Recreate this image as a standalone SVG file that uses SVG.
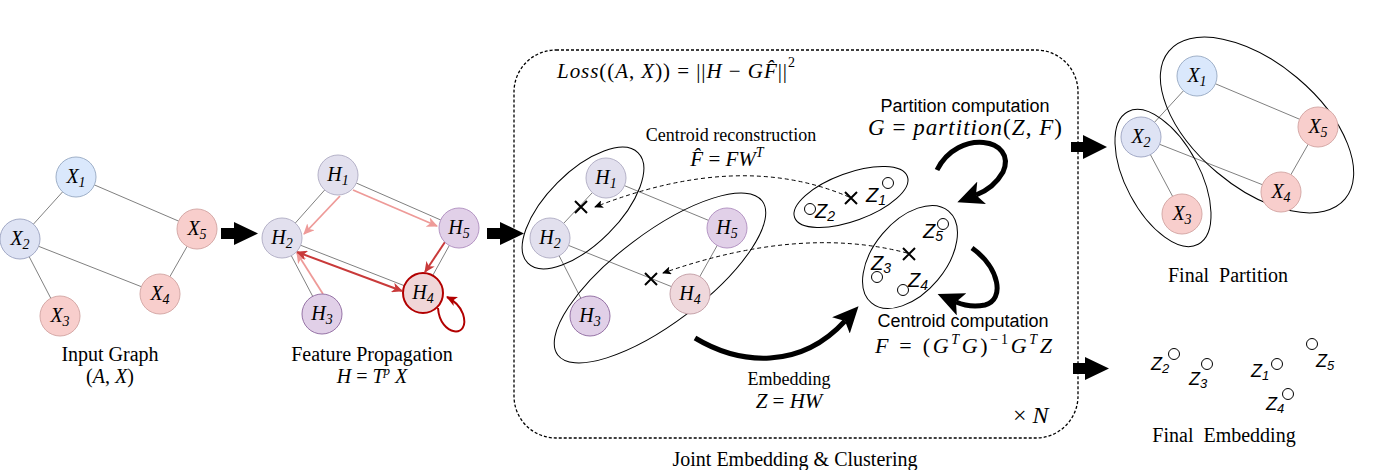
<svg xmlns="http://www.w3.org/2000/svg" width="1387" height="470" viewBox="0 0 1387 470">
<defs>
<style>
.t{font-family:"Liberation Serif","Times New Roman",serif;font-size:20px;fill:#000}
.t18{font-family:"Liberation Serif","Times New Roman",serif;font-size:18px;fill:#000}
.m{font-family:"Liberation Serif","Times New Roman",serif;font-size:21px;fill:#000}
.s{font-family:"Liberation Sans",Arial,sans-serif;font-size:18px;fill:#000}
.i{font-style:italic}
.nl{font-family:"Liberation Serif","Times New Roman",serif;font-style:italic;font-size:20px;fill:#000;text-anchor:middle}
.edge{stroke:#808080;stroke-width:1;fill:none}
.blue1{fill:#dae8fc;stroke:#9fb0c8;stroke-width:1}
.blue2{fill:#dee3f4;stroke:#a3aac6;stroke-width:1}
.red{fill:#f8cecc;stroke:#d6aaa8;stroke-width:1}
.grey{fill:#e2e0ee;stroke:#b5b2c8;stroke-width:1}
.purp{fill:#e1d0e8;stroke:#b596c4;stroke-width:1}
.purp2{fill:#e1d0e8;stroke:#9673a6;stroke-width:1}
.hl{fill:#f0d6d8;stroke:#b20000;stroke-width:2}
.pink{fill:#efd8dc;stroke:#c6a3aa;stroke-width:1}
.grp{fill:none;stroke:#000;stroke-width:1}
.zc{fill:#fff;stroke:#000;stroke-width:1}
.zt{font-family:"Liberation Sans",Arial,sans-serif;font-style:italic;font-size:20px;fill:#000}
.zt2{font-family:"Liberation Sans",Arial,sans-serif;font-style:italic;font-size:18px;fill:#000}
.cross{stroke:#000;stroke-width:2}
.block{fill:#000}
.thick{fill:none;stroke:#000;stroke-width:5}
.dash{fill:none;stroke:#000;stroke-width:1;stroke-dasharray:4 3}
.lt{fill:none;stroke:#ee9a98;stroke-width:1.8}
.dk{fill:none;stroke:#c93a3a;stroke-width:2}
</style>
<marker id="mL" markerUnits="userSpaceOnUse" markerWidth="12" markerHeight="10" refX="10" refY="5" orient="auto-start-reverse" viewBox="0 0 12 10"><path d="M0,0 L11,5 L0,10 L3,5z" fill="#ee9a98"/></marker>
<marker id="mD" markerUnits="userSpaceOnUse" markerWidth="12" markerHeight="10" refX="10" refY="5" orient="auto-start-reverse" viewBox="0 0 12 10"><path d="M0,0 L11,5 L0,10 L3,5z" fill="#c93a3a"/></marker>
<marker id="mR" markerUnits="userSpaceOnUse" markerWidth="12" markerHeight="10" refX="10" refY="5" orient="auto" viewBox="0 0 12 10"><path d="M0,0 L11,5 L0,10 L3,5z" fill="#b20000"/></marker>
<marker id="mS" markerUnits="userSpaceOnUse" markerWidth="9" markerHeight="8" refX="8" refY="4" orient="auto" viewBox="0 0 9 8"><path d="M0,0 L9,4 L0,8 L2,4z" fill="#000"/></marker>
<marker id="mB" markerUnits="userSpaceOnUse" markerWidth="26" markerHeight="24" refX="6" refY="12" orient="auto" viewBox="0 0 26 24"><path d="M0,0 L26,12 L0,24 L6,12z" fill="#000"/></marker>
</defs>
<rect width="1387" height="470" fill="#fff"/>

<g id="connectors">
  <line class="edge" x1="76" y1="177" x2="20" y2="239"/>
  <line class="edge" x1="76" y1="177" x2="197" y2="229"/>
  <line class="edge" x1="20" y1="239" x2="160" y2="294"/>
  <line class="edge" x1="20" y1="239" x2="60" y2="316"/>
  <line class="edge" x1="197" y1="229" x2="160" y2="294"/>
  <line class="edge" x1="338" y1="175" x2="282" y2="238"/>
  <line class="edge" x1="338" y1="175" x2="459" y2="228"/>
  <line class="edge" x1="282" y1="238" x2="423" y2="293"/>
  <line class="edge" x1="282" y1="238" x2="322" y2="314"/>
  <line class="edge" x1="459" y1="228" x2="423" y2="293"/>
  <path class="lt" d="M340,196 L304,234" marker-end="url(#mL)"/>
  <path class="lt" d="M353,190 L437,226" marker-end="url(#mL)"/>
  <path class="lt" d="M323,294 L297,253" marker-end="url(#mL)"/>
  <path class="dk" d="M445,242 L425,272" marker-end="url(#mD)"/>
  <path class="dk" d="M297,252 L402,291" marker-start="url(#mD)" marker-end="url(#mD)"/>
  <path d="M438,308 C440,337 471,339 463,314 Q459,303 447,297" fill="none" stroke="#b20000" stroke-width="2" marker-end="url(#mR)"/>
  <line class="edge" x1="606" y1="178" x2="550" y2="238"/>
  <line class="edge" x1="606" y1="178" x2="727" y2="228"/>
  <line class="edge" x1="550" y1="238" x2="690" y2="294"/>
  <line class="edge" x1="550" y1="238" x2="590" y2="316"/>
  <line class="edge" x1="727" y1="228" x2="690" y2="294"/>
  <path class="dash" d="M849,197 Q740,150 595,207" marker-end="url(#mS)"/>
  <path class="dash" d="M907,253 Q800,225 663,273" marker-end="url(#mS)"/>
  <path class="thick" d="M937,170 C958,128 1018,138 1003,172 Q994,188 976,195" marker-end="url(#mB)"/>
  <path class="thick" d="M972,248 C1000,268 1005,300 985,305 Q970,308 956,302" marker-end="url(#mB)"/>
  <path class="thick" d="M695,338 C740,365 800,370 845,321" marker-end="url(#mB)"/>
  <polygon class="block" points="221,228 234,228 234,222 258,233.5 234,245 234,239 221,239"/>
  <polygon class="block" points="487,228 500,228 500,222 524,233.5 500,245 500,239 487,239"/>
  <polygon class="block" points="1071,142 1083,142 1083,135 1107,147 1083,159 1083,152 1071,152"/>
  <polygon class="block" points="1073,363 1085,363 1085,357 1109,368.5 1085,380 1085,374 1073,374"/>
  <line class="edge" x1="1197" y1="76" x2="1141" y2="137"/>
  <line class="edge" x1="1197" y1="76" x2="1318" y2="127"/>
  <line class="edge" x1="1141" y1="137" x2="1281" y2="192"/>
  <line class="edge" x1="1141" y1="137" x2="1182" y2="214"/>
  <line class="edge" x1="1318" y1="127" x2="1281" y2="192"/>
</g>

<g id="joint-box">
  <rect x="514" y="50" width="564" height="388" rx="42" ry="42" fill="none" stroke="#000" stroke-width="1.3" stroke-dasharray="3 2"/>
</g>

<g id="in-X1"><circle class="blue1" cx="76" cy="177" r="20"/><text class="nl" x="76" y="183">X<tspan dy="4" font-size="14">1</tspan></text></g>
<g id="in-X2"><circle class="blue2" cx="20" cy="239" r="20"/><text class="nl" x="20" y="245">X<tspan dy="4" font-size="14">2</tspan></text></g>
<g id="in-X3"><circle class="red" cx="60" cy="316" r="20"/><text class="nl" x="60" y="322">X<tspan dy="4" font-size="14">3</tspan></text></g>
<g id="in-X4"><circle class="red" cx="160" cy="294" r="20"/><text class="nl" x="160" y="300">X<tspan dy="4" font-size="14">4</tspan></text></g>
<g id="in-X5"><circle class="red" cx="197" cy="229" r="20"/><text class="nl" x="197" y="235">X<tspan dy="4" font-size="14">5</tspan></text></g>
<g id="label-input">
  <text class="t" x="110" y="361" text-anchor="middle">Input Graph</text>
  <text class="t" x="110" y="383" text-anchor="middle">(<tspan class="i">A</tspan>, <tspan class="i">X</tspan>)</text>
</g>

<g id="fp-H1"><circle class="grey" cx="338" cy="175" r="20"/><text class="nl" x="338" y="181">H<tspan dy="4" font-size="14">1</tspan></text></g>
<g id="fp-H2"><circle class="grey" cx="282" cy="238" r="20"/><text class="nl" x="282" y="244">H<tspan dy="4" font-size="14">2</tspan></text></g>
<g id="fp-H3"><circle class="purp2" cx="322" cy="314" r="20"/><text class="nl" x="322" y="320">H<tspan dy="4" font-size="14">3</tspan></text></g>
<g id="fp-H4"><circle class="hl" cx="423" cy="293" r="20"/><text class="nl" x="423" y="299">H<tspan dy="4" font-size="14">4</tspan></text></g>
<g id="fp-H5"><circle class="purp" cx="459" cy="228" r="20"/><text class="nl" x="459" y="234">H<tspan dy="4" font-size="14">5</tspan></text></g>
<g id="label-fp">
  <text class="t" x="372" y="361" text-anchor="middle">Feature Propagation</text>
  <text class="t" x="372" y="383" text-anchor="middle"><tspan class="i">H</tspan> = <tspan class="i">T</tspan><tspan class="i" dy="-8" font-size="13">p</tspan><tspan class="i" dy="8"> X</tspan></text>
</g>

<g id="box-groups">
  <ellipse class="grp" cx="583" cy="208" rx="78" ry="36" transform="rotate(-45 583 208)"/>
  <ellipse class="grp" cx="660" cy="278" rx="128" ry="45" transform="rotate(-37 660 278)"/>
  <ellipse class="grp" cx="851" cy="197" rx="60" ry="24" transform="rotate(-20 851 197)"/>
  <ellipse class="grp" cx="910" cy="257" rx="60" ry="36" transform="rotate(-50 910 257)"/>
</g>
<g id="box-H1"><circle class="grey" cx="606" cy="178" r="20"/><text class="nl" x="606" y="184">H<tspan dy="4" font-size="14">1</tspan></text></g>
<g id="box-H2"><circle class="grey" cx="550" cy="238" r="20"/><text class="nl" x="550" y="244">H<tspan dy="4" font-size="14">2</tspan></text></g>
<g id="box-H3"><circle class="purp2" cx="590" cy="316" r="20"/><text class="nl" x="590" y="322">H<tspan dy="4" font-size="14">3</tspan></text></g>
<g id="box-H4"><circle class="pink" cx="690" cy="294" r="20"/><text class="nl" x="690" y="300">H<tspan dy="4" font-size="14">4</tspan></text></g>
<g id="box-H5"><circle class="purp" cx="727" cy="228" r="20"/><text class="nl" x="727" y="234">H<tspan dy="4" font-size="14">5</tspan></text></g>
<g id="centroids">
  <path class="cross" d="M575,201 L587,213 M587,201 L575,213"/>
  <path class="cross" d="M645,273 L657,285 M657,273 L645,285"/>
  <path class="cross" d="M845,192 L857,204 M857,192 L845,204"/>
  <path class="cross" d="M903,248 L915,260 M915,248 L903,260"/>
</g>
<g id="box-Z1"><circle class="zc" cx="888" cy="183" r="5.5"/><text class="zt" x="866" y="202">Z<tspan dy="3" font-size="14">1</tspan></text></g>
<g id="box-Z2"><circle class="zc" cx="810" cy="209" r="5.5"/><text class="zt" x="815" y="218">Z<tspan dy="3" font-size="14">2</tspan></text></g>
<g id="box-Z3"><circle class="zc" cx="877" cy="277" r="5.5"/><text class="zt" x="871" y="270">Z<tspan dy="3" font-size="14">3</tspan></text></g>
<g id="box-Z4"><circle class="zc" cx="903" cy="290" r="5.5"/><text class="zt" x="908" y="287">Z<tspan dy="3" font-size="14">4</tspan></text></g>
<g id="box-Z5"><circle class="zc" cx="943" cy="224" r="5.5"/><text class="zt" x="923" y="238">Z<tspan dy="3" font-size="14">5</tspan></text></g>

<g id="box-labels">
  <text class="m" x="557" y="78" textLength="238" lengthAdjust="spacing"><tspan class="i">Loss</tspan>((<tspan class="i">A</tspan>, <tspan class="i">X</tspan>)) = ||<tspan class="i">H</tspan> − <tspan class="i">GF̂</tspan>||<tspan dy="-11" font-size="14">2</tspan></text>
  <text class="t18" x="731" y="141" text-anchor="middle">Centroid reconstruction</text>
  <text class="m" x="727" y="166" text-anchor="middle"><tspan class="i">F̂</tspan> = <tspan class="i">FW</tspan><tspan class="i" dy="-9" font-size="14">T</tspan></text>
  <text class="s" x="965" y="112" text-anchor="middle">Partition computation</text>
  <text class="m i" x="868" y="135" style="font-size:23px" textLength="194" lengthAdjust="spacing">G<tspan font-style="normal"> = </tspan>partition<tspan font-style="normal">(</tspan>Z<tspan font-style="normal">, </tspan>F<tspan font-style="normal">)</tspan></text>
  <text class="s" x="963" y="327" text-anchor="middle">Centroid computation</text>
  <text class="m" x="875" y="353" style="font-size:22px" textLength="177" lengthAdjust="spacing"><tspan class="i">F</tspan> = (<tspan class="i">G</tspan><tspan class="i" dy="-9" font-size="14">T</tspan><tspan class="i" dy="9">G</tspan>)<tspan dy="-9" font-size="14">−1</tspan><tspan class="i" dy="9">G</tspan><tspan class="i" dy="-9" font-size="14">T</tspan><tspan class="i" dy="9">Z</tspan></text>
  <text class="t18" x="789" y="385" text-anchor="middle">Embedding</text>
  <text class="m" x="789" y="408" text-anchor="middle"><tspan class="i">Z</tspan> = <tspan class="i">HW</tspan></text>
  <text class="m" x="1013" y="423" style="font-size:24px">× <tspan class="i">N</tspan></text>
  <text class="t" x="795" y="466" text-anchor="middle">Joint Embedding &amp; Clustering</text>
</g>

<g id="final-groups">
  <ellipse class="grp" cx="1257" cy="125" rx="115" ry="62" transform="rotate(40 1257 125)"/>
  <ellipse class="grp" cx="1163" cy="178" rx="75" ry="37" transform="rotate(62 1163 178)"/>
</g>
<g id="fin-X1"><circle class="blue1" cx="1197" cy="76" r="20"/><text class="nl" x="1197" y="82">X<tspan dy="4" font-size="14">1</tspan></text></g>
<g id="fin-X2"><circle class="blue2" cx="1141" cy="137" r="20"/><text class="nl" x="1141" y="143">X<tspan dy="4" font-size="14">2</tspan></text></g>
<g id="fin-X3"><circle class="red" cx="1182" cy="214" r="20"/><text class="nl" x="1182" y="220">X<tspan dy="4" font-size="14">3</tspan></text></g>
<g id="fin-X4"><circle class="red" cx="1281" cy="192" r="20"/><text class="nl" x="1281" y="198">X<tspan dy="4" font-size="14">4</tspan></text></g>
<g id="fin-X5"><circle class="red" cx="1318" cy="127" r="20"/><text class="nl" x="1318" y="133">X<tspan dy="4" font-size="14">5</tspan></text></g>
<g id="label-final-partition"><text class="t" x="1228" y="282" text-anchor="middle" xml:space="preserve">Final  Partition</text></g>

<g id="fe-Z2"><circle class="zc" cx="1174" cy="354" r="5.5"/><text class="zt2" x="1151" y="370">Z<tspan dy="3" font-size="13">2</tspan></text></g>
<g id="fe-Z3"><circle class="zc" cx="1207" cy="364" r="5.5"/><text class="zt2" x="1189" y="385">Z<tspan dy="3" font-size="13">3</tspan></text></g>
<g id="fe-Z1"><circle class="zc" cx="1277" cy="364" r="5.5"/><text class="zt2" x="1251" y="377">Z<tspan dy="3" font-size="13">1</tspan></text></g>
<g id="fe-Z5"><circle class="zc" cx="1312" cy="344" r="5.5"/><text class="zt2" x="1316" y="367">Z<tspan dy="3" font-size="13">5</tspan></text></g>
<g id="fe-Z4"><circle class="zc" cx="1288" cy="394" r="5.5"/><text class="zt2" x="1266" y="410">Z<tspan dy="3" font-size="13">4</tspan></text></g>
<g id="label-final-embedding"><text class="t" x="1224" y="442" text-anchor="middle" xml:space="preserve">Final  Embedding</text></g>
</svg>
